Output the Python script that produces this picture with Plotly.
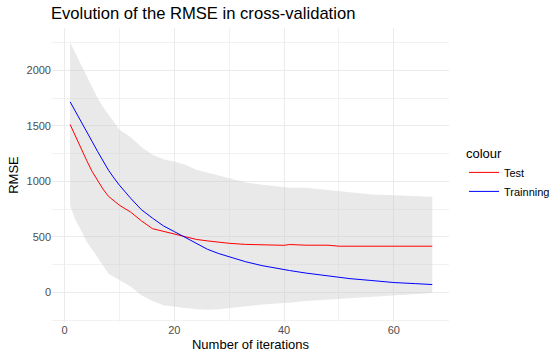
import plotly.graph_objects as go

iterations = [1, 2, 3, 4, 5, 6, 7, 8, 9, 10, 12, 14, 16, 18, 20, 22, 24, 26, 28, 30,
              33, 36, 40, 41, 44, 48, 50, 52, 56, 60, 64, 67]
test_rmse = [1512, 1400, 1290, 1190, 1090, 1010, 930, 865, 825, 785, 725, 645, 575, 550, 530,
             500, 478, 465, 452, 443, 433, 428, 425, 432, 426, 426, 417, 417, 417, 417, 417, 417]
train_rmse = [1716, 1630, 1540, 1450, 1360, 1270, 1180, 1100, 1030, 965, 850, 745, 670, 600, 548,
              497, 440, 390, 352, 322, 277, 242, 205, 198, 175, 150, 138, 125, 108, 90, 80, 72]
upper = [2250, 2150, 2060, 1950, 1850, 1750, 1670, 1600, 1530, 1465, 1400, 1310, 1240, 1200, 1180,
         1150, 1105, 1080, 1055, 1028, 990, 970, 943, 943, 942, 920, 910, 900, 882, 875, 868, 861]
lower = [780, 650, 560, 460, 390, 320, 240, 170, 140, 110, 55, -25, -75, -115, -130,
         -140, -150, -155, -150, -140, -120, -108, -95, -92, -75, -62, -58, -54, -40, -27, -12, -5]

fig = go.Figure()
fig.add_trace(go.Scatter(x=iterations, y=upper, mode="lines", line=dict(width=0),
                         showlegend=False, hoverinfo="skip"))
fig.add_trace(go.Scatter(x=iterations, y=lower, mode="lines", line=dict(width=0),
                         fill="tonexty", fillcolor="rgba(200,200,200,0.4)",
                         showlegend=False, hoverinfo="skip"))
fig.add_trace(go.Scatter(x=iterations, y=test_rmse, mode="lines", name="Test",
                         line=dict(color="#ff0000", width=1)))
fig.add_trace(go.Scatter(x=iterations, y=train_rmse, mode="lines", name="Trainning",
                         line=dict(color="#0000ff", width=1)))

fig.update_layout(
    width=550, height=363,
    margin=dict(l=52, r=101, t=28, b=41, autoexpand=False),
    paper_bgcolor="white", plot_bgcolor="white",
    font=dict(family="Liberation Sans, Arial, sans-serif", color="#000000"),
    title=dict(text="Evolution of the RMSE in cross-validation", x=51 / 550, xanchor="left",
               y=1 - 13 / 363, yanchor="middle", font=dict(size=16.6, color="#000000")),
    legend=dict(title=dict(text="colour", font=dict(size=13)), font=dict(size=11),
                xref="container", yref="container", x=464 / 550, xanchor="left",
                y=1 - 141 / 363, yanchor="top", tracegroupgap=0, traceorder="normal",
                itemwidth=30, bgcolor="rgba(0,0,0,0)"),
    showlegend=True,
)
fig.update_xaxes(range=[-2.3, 70.05], tickvals=[0, 20, 40, 60], showgrid=True,
                 gridcolor="#ebebeb", gridwidth=1, zeroline=False, showline=False,
                 ticks="", tickfont=dict(size=11, color="#4d4d4d"), automargin=False,
                 minor=dict(tickvals=[10, 30, 50, 70], showgrid=True, gridcolor="#f2f2f2", gridwidth=1),
                 title=dict(text="Number of iterations", font=dict(size=13, color="#000000"), standoff=4))
fig.update_yaxes(range=[-265, 2380], tickvals=[0, 500, 1000, 1500, 2000], showgrid=True,
                 gridcolor="#ebebeb", gridwidth=1, zeroline=False, showline=False,
                 ticks="", tickfont=dict(size=11, color="#4d4d4d"), automargin=False,
                 minor=dict(tickvals=[-250, 250, 750, 1250, 1750, 2250], showgrid=True,
                            gridcolor="#f2f2f2", gridwidth=1),
                 title=dict(text="RMSE", font=dict(size=13, color="#000000"), standoff=4))

fig.write_html("out.html", config={"displayModeBar": False},
               post_script="document.body.style.margin='0';")
